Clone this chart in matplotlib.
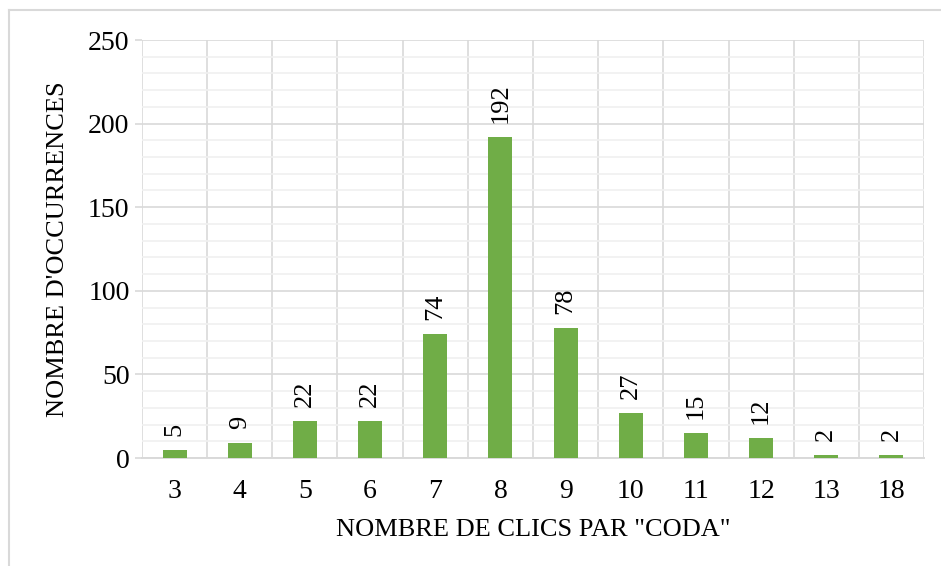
import matplotlib
matplotlib.use("Agg")
import matplotlib.pyplot as plt
from matplotlib.lines import Line2D
import numpy as np

# clicks per coda -> number of occurrences
clics = ["3", "4", "5", "6", "7", "8", "9", "10", "11", "12", "13", "18"]
occurrences = [5, 9, 22, 22, 74, 192, 78, 27, 15, 12, 2, 2]

green = "#70AD47"
grid_major = "#D9D9D9"
grid_minor = "#F0F0F0"
serif = ["Liberation Serif", "DejaVu Serif"]

plt.rcParams["font.family"] = serif

fig = plt.figure(figsize=(9.41, 5.66), dpi=100)
ax = fig.add_axes([142 / 941, 1 - 458 / 566, (924 - 142) / 941, (458 - 40) / 566])

x = np.arange(len(clics))
ax.bar(x, occurrences, width=0.37, color=green, zorder=3)

for xi, v in zip(x, occurrences):
    ax.annotate(str(v), (xi, v), xytext=(0, 10), textcoords="offset points",
                rotation=90, ha="center", va="bottom", fontsize=19,
                family=serif, color="black")

ax.set_xlim(-0.5, len(clics) - 0.5)
ax.set_ylim(0, 250)
ax.set_xticks(x)
ax.set_xticklabels(clics)
ax.set_xticks(np.arange(-0.5, len(clics), 1.0), minor=True)
ax.set_yticks(np.arange(0, 251, 50))
ax.set_yticks(np.arange(0, 251, 10), minor=True)

ax.grid(axis="y", which="minor", color=grid_minor, linewidth=1.2, zorder=0)
ax.grid(axis="y", which="major", color=grid_major, linewidth=1.2, zorder=1)
ax.grid(axis="x", which="minor", color=grid_major, linewidth=1.2, zorder=1)

for side in ["top", "right", "left"]:
    ax.spines[side].set_visible(False)
ax.spines["bottom"].set_color(grid_major)
ax.spines["bottom"].set_linewidth(1.4)

ax.tick_params(axis="x", which="both", length=0, labelsize=20, pad=15)
ax.tick_params(axis="y", which="major", length=5, color=grid_major, width=1.2,
               labelsize=20, pad=4)
ax.tick_params(axis="y", which="minor", length=0)

ax.set_xlabel('NOMBRE DE CLICS PAR "CODA"', fontsize=19, labelpad=11)
ax.set_ylabel("NOMBRE D'OCCURRENCES", fontsize=19, labelpad=14)

# chart frame (partly cut off at the right and bottom)
fig.add_artist(Line2D([9 / 941, 9 / 941], [0, 1 - 10 / 566], color=grid_major,
                      linewidth=1.5, transform=fig.transFigure))
fig.add_artist(Line2D([9 / 941, 1], [1 - 10 / 566, 1 - 10 / 566], color=grid_major,
                      linewidth=1.5, transform=fig.transFigure))

fig.savefig("out.png", dpi=100)
